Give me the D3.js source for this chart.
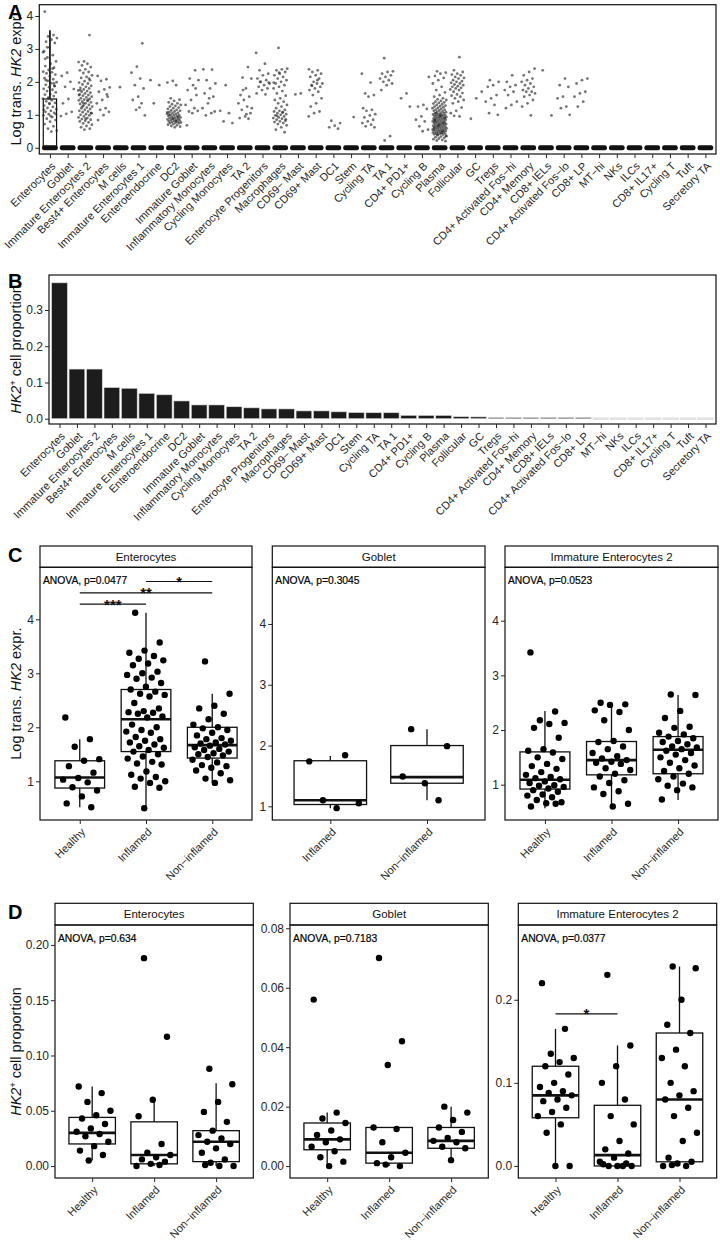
<!DOCTYPE html>
<html><head><meta charset="utf-8">
<script src="https://cdn.jsdelivr.net/npm/d3@7"></script>
<style>body{margin:0;background:#fff}svg{display:block}</style>
</head><body><svg id="c" width="720" height="1240"></svg>
<script>
// ---------------- DATA ----------------
const cellTypes = ["Enterocytes","Goblet","Immature Enterocytes 2","Best4+ Enterocytes","M cells","Immature Enterocytes 1","Enteroendocrine","DC2","Immature Goblet","Inflammatory Monocytes","Cycling Monocytes","TA 2","Enterocyte Progenitors","Macrophages","CD69− Mast","CD69+ Mast","DC1","Stem","Cycling TA","TA 1","CD4+ PD1+","Cycling B","Plasma","Follicular","GC","Tregs","CD4+ Activated Fos−hi","CD4+ Memory","CD8+ IELs","CD4+ Activated Fos−lo","CD8+ LP","MT−hi","NKs","ILCs","CD8+ IL17+","Cycling T","Tuft","Secretory TA"];
const hk2Proportion = [0.375,0.137,0.137,0.086,0.084,0.070,0.066,0.049,0.038,0.038,0.033,0.030,0.027,0.027,0.0215,0.0215,0.019,0.017,0.0165,0.0165,0.0092,0.009,0.009,0.0055,0.005,0.003,0.003,0.003,0.003,0.003,0.003,0,0,0,0,0,0,0];
// Panel A: non-zero log-transformed HK2 expression per cell type (same order as cellTypes)
const exprNonZero = [
 [4.13,3.42,3.38,3.33,3.28,3.22,3.18,3.05,2.93,2.81,2.74,2.62,2.55,2.48,2.43,2.36,2.31,2.29,2.26,2.22,2.17,2.11,2.08,2.03,1.99,1.96,1.91,1.87,1.84,1.79,1.76,1.72,1.68,1.63,1.61,1.57,1.52,1.49,1.44,1.41,1.36,1.33,1.28,1.24,1.21,1.17,1.12,1.09,1.06,1.02,0.98,0.93,0.88,0.84,0.79,0.72,0.65,0.58,0.52,0.49,2.05,1.88,1.35,1.15,2.4,3.05,1.02,0.96,2.7,1.95,1.5,2.9],
 [2.28,2.18,2.0,1.85,1.78,1.48,1.35,1.09,1.03,0.96],
 [3.42,2.62,2.6,2.55,2.5,2.45,2.38,2.35,2.3,2.27,2.2,2.15,2.12,2.05,2.02,1.98,1.95,1.92,1.88,1.85,1.82,1.8,1.77,1.74,1.72,1.7,1.67,1.65,1.62,1.6,1.58,1.55,1.53,1.5,1.48,1.46,1.44,1.42,1.4,1.38,1.35,1.33,1.3,1.28,1.25,1.22,1.2,1.18,1.15,1.12,1.1,1.08,1.05,1.02,1.0,0.98,0.95,0.92,0.9,0.87,0.85,0.82,0.8,0.77,0.74,0.7,0.66,0.62,0.58,0.55,1.6,1.45,1.25,1.05,0.88,1.75,2.1,1.35],
 [2.18,2.08,2.03,1.83,1.77,1.7,1.55,1.45,1.35,1.2,1.15,1.09,0.99,0.84,1.62],
 [1.84],
 [3.17,2.46,2.28,2.1,1.9,1.8,1.55,1.45,1.35,1.15,0.98,1.22],
 [2.05,1.9,1.35],
 [2.03,1.98,1.9,1.5,1.46,1.42,1.38,1.35,1.32,1.3,1.27,1.25,1.22,1.2,1.18,1.15,1.13,1.12,1.1,1.08,1.06,1.05,1.03,1.02,1.0,0.99,0.98,0.96,0.95,0.94,0.92,0.91,0.9,0.88,0.87,0.86,0.85,0.84,0.83,0.82,0.8,0.79,0.78,0.77,0.76,0.75,0.74,0.72,0.7,0.68,0.66,0.64,0.62,1.0,0.93,0.89,1.07,0.81],
 [2.35,2.1,2.05,1.9,1.75,1.6,1.45,1.3,1.2,1.1,1.12,1.05,0.68,1.8],
 [2.38,2.37,2.05,1.95,1.8,1.65,1.55,1.35,1.2,1.05,0.98,1.1,1.5],
 [1.9,1.12,1.05,0.8,0.75],
 [2.45,2.13,2.1,1.8,1.6,1.55,1.45,1.35,1.25,1.15,1.05,0.95,0.9,0.88,1.75,1.2,1.02],
 [2.88,2.55,2.35,2.25,2.2,2.1,2.05,2.0,1.95,1.9,1.85,1.8,1.75,1.65,1.62,2.0,1.98],
 [3.03,2.4,2.38,2.35,2.3,2.25,2.2,2.15,2.1,2.05,2.0,1.95,1.9,1.85,1.8,1.72,1.65,1.58,1.5,1.45,1.4,1.35,1.3,1.25,1.2,1.15,1.12,1.1,1.08,1.05,1.02,1.0,0.98,0.95,0.92,0.9,0.88,0.85,0.82,0.8,0.78,0.75,0.72,0.68,0.62,0.55,0.47,2.28,1.98,1.07,0.97,0.86],
 [1.65,1.62],
 [2.38,2.35,2.3,2.25,2.2,2.15,2.1,2.0,1.95,1.95,1.9,1.85,1.8,1.75,1.7,1.6,1.5,1.35,1.25,1.1,1.05,0.95,2.05,1.88],
 [0.82,0.75,0.67,0.62,0.58],
 [0.93],
 [2.25,1.98,1.65,1.6,1.55,1.2,1.15,1.12,1.02,0.98,0.92,0.85,0.8,0.75,0.7,0.65,0.62],
 [2.72,2.32,2.3,2.25,2.2,2.15,2.1,2.05,2.0,1.95,1.9,1.75,0.35,0.22],
 [1.65,1.5,1.25],
 [2.15,1.3,1.25,1.18,0.95,0.85,0.8,0.65,0.55,0.5],
 [2.32,2.28,2.25,2.18,2.12,2.05,1.95,1.85,1.75,1.68,1.6,1.55,1.5,1.47,1.45,1.42,1.4,1.38,1.36,1.34,1.32,1.3,1.28,1.26,1.25,1.23,1.21,1.2,1.18,1.16,1.15,1.13,1.12,1.1,1.09,1.08,1.06,1.05,1.04,1.02,1.01,1.0,0.99,0.98,0.97,0.96,0.95,0.94,0.93,0.92,0.91,0.9,0.89,0.88,0.87,0.86,0.85,0.84,0.83,0.82,0.81,0.8,0.79,0.78,0.77,0.76,0.75,0.74,0.73,0.72,0.71,0.7,0.69,0.68,0.67,0.66,0.65,0.64,0.63,0.62,0.61,0.6,0.59,0.58,0.57,0.56,0.55,0.54,0.53,0.52,0.51,0.5,0.49,0.48,0.47,0.46,0.45,0.44,0.43,0.42,0.41,0.4,0.38,0.36,0.34,0.32,0.3,0.28,0.26,0.24,0.22,0.2,0.95,0.85,0.75,0.65,0.55,0.45,1.05,0.9,0.7,0.6,0.5,0.4,0.35,1.0,0.8],
 [2.75,2.35,2.3,2.25,2.22,2.2,2.15,2.12,2.1,2.05,2.02,2.0,1.97,1.95,1.92,1.9,1.87,1.85,1.82,1.8,1.77,1.75,1.7,1.66,1.62,1.58,1.55,1.5,1.45,1.4,1.35,1.22,1.12,1.05,0.95,0.97],
 [1.7,1.5,0.88],
 [2.05,2.0,1.9,1.85,1.6,1.5,1.4,1.3,1.05,1.0],
 [2.2,2.0,1.9,1.85,1.75,1.7,1.6,1.4,1.3,1.2],
 [2.4,2.3,2.2,2.1,2.05,2.0,1.95,1.9,1.85,1.8,1.75,1.7,1.7,1.65,1.6,1.55,1.45,1.35,1.25,0.98],
 [2.35,0.98],
 [2.1,1.9,1.85,1.55,1.5,1.25,1.2,1.0],
 [2.1,2.05,1.95,1.7,1.65,1.55,1.4,1.25],
 [],[],[],[],[],[],[]
];
// Enterocytes box in panel A: [q1, median, q3, whiskerLow, whiskerHigh]
const enterocytesBoxA = [0, 0, 1.48, 0, 3.57];
const exprTicks = [0,1,2,3,4];
const propTicks = [0,0.1,0.2,0.3];

// Panel C / D groups
const groups3 = ["Healthy","Inflamed","Non−inflamed"];
const groups2 = ["Inflamed","Non−inflamed"];

// Panel C: per-sample log trans HK2 expression
const cEntHealthy = [2.18,1.78,1.64,1.41,1.38,1.28,1.16,1.06,1.03,0.98,0.89,0.83,0.72,0.59,0.52];
const cEntInflamed = [4.12,3.57,3.42,3.38,3.32,3.27,3.24,3.18,3.15,3.03,3.0,2.97,2.92,2.9,2.82,2.75,2.7,2.66,2.62,2.6,2.57,2.45,2.35,2.3,2.28,2.27,2.25,2.2,2.18,2.05,2.0,1.95,1.92,1.9,1.82,1.78,1.75,1.72,1.68,1.65,1.62,1.58,1.55,1.5,1.46,1.42,1.36,1.33,1.31,1.18,1.12,1.08,1.05,1.0,0.97,0.9,0.88,0.5];
const cEntNonInfl = [3.22,2.62,2.4,2.35,2.25,2.15,2.05,2.0,1.98,1.95,1.9,1.85,1.8,1.78,1.75,1.72,1.7,1.68,1.66,1.63,1.6,1.58,1.55,1.52,1.5,1.48,1.45,1.4,1.35,1.3,1.28,1.25,1.2,1.15,1.05,1.02,0.97];
const cEntBoxes = [[0.875,1.07,1.38,0.52,1.78],[1.55,2.15,2.7,0.5,4.12],[1.43,1.67,2.0,0.97,2.62]];
const cGobInflamed = [1.74,1.84,1.1,1.05,0.97];
const cGobNonInfl = [2.27,1.99,1.38,1.49,1.1];
const cGobBoxes = [[1.03,1.1,1.75,0.97,1.83],[1.38,1.48,2.0,1.1,2.27]];
const cIe2Healthy = [3.42,2.34,2.18,2.13,2.11,2.04,1.86,1.65,1.62,1.59,1.5,1.47,1.38,1.34,1.29,1.23,1.18,1.14,1.12,1.1,1.06,1.03,0.99,0.98,0.96,0.93,0.9,0.87,0.82,0.8,0.77,0.72,0.68,0.66,0.6,0.65];
const cIe2Inflamed = [2.5,2.47,2.46,2.36,2.33,2.18,2.0,1.8,1.78,1.7,1.65,1.58,1.52,1.48,1.45,1.42,1.4,1.38,1.3,1.27,1.2,1.15,1.08,1.03,0.95,0.88,0.83,0.65,0.6];
const cIe2NonInfl = [2.65,2.64,2.35,2.22,2.06,2.04,1.95,1.92,1.88,1.85,1.8,1.78,1.74,1.7,1.68,1.65,1.62,1.58,1.55,1.5,1.45,1.4,1.35,1.3,1.25,1.2,1.15,1.1,1.02,0.98,0.95,0.9,0.73];
const cIe2Boxes = [[0.92,1.09,1.6,0.57,2.35],[1.18,1.45,1.79,0.6,2.49],[1.2,1.64,1.88,0.72,2.64]];

// Panel D: HK2+ cell proportion per sample
const dEntHealthy = [0.072,0.066,0.058,0.05,0.046,0.043,0.038,0.034,0.031,0.029,0.027,0.022,0.018,0.014,0.01,0.005];
const dEntInflamed = [0.188,0.117,0.06,0.045,0.02,0.012,0.01,0.008,0.006,0.004,0.002,0.0,0.001];
const dEntNonInfl = [0.088,0.074,0.058,0.049,0.04,0.032,0.028,0.025,0.022,0.02,0.016,0.012,0.006,0.003,0.0,0.0,0.001];
const dEntBoxes = [[0.02,0.03,0.044,0.005,0.072],[0.002,0.01,0.04,0,0.06],[0.004,0.022,0.032,0,0.075]];
const dGobHealthy = [0.056,0.018,0.016,0.0145,0.012,0.0105,0.009,0.008,0.0065,0.005,0.003,0.0015,0.0];
const dGobInflamed = [0.07,0.042,0.034,0.013,0.0125,0.008,0.0045,0.003,0.001,0.0,0.0005];
const dGobNonInfl = [0.02,0.018,0.0155,0.013,0.0115,0.0095,0.0085,0.008,0.0065,0.006,0.002];
const dGobBoxes = [[0.0055,0.009,0.0145,0,0.018],[0.001,0.0045,0.013,0,0.013],[0.006,0.0085,0.013,0.002,0.02]];
const dIe2Healthy = [0.22,0.165,0.135,0.13,0.125,0.12,0.11,0.1,0.095,0.09,0.088,0.085,0.08,0.078,0.07,0.065,0.06,0.05,0.04,0.0,0.0];
const dIe2Inflamed = [0.23,0.145,0.12,0.1,0.08,0.06,0.05,0.03,0.02,0.015,0.01,0.005,0.0,0.0,0.0,0.0,0.002,0.003];
const dIe2NonInfl = [0.24,0.238,0.2,0.17,0.16,0.14,0.13,0.12,0.1,0.09,0.085,0.08,0.07,0.06,0.04,0.03,0.01,0.005,0.003,0.0,0.0,0.001];
const dIe2Boxes = [[0.058,0.085,0.12,0,0.165],[0,0.013,0.073,0,0.145],[0.005,0.08,0.16,0,0.24]];

// ---------------- DRAWING ----------------
const F = '"Liberation Sans", Arial, Helvetica, sans-serif';
const INK = "#111", TXT = "#262626";
const svg = d3.select("#c").attr("font-family", F);
const jit = i => ((i * 0.6180339887 + 0.137) % 1) - 0.5;

function frame(x0, y0, x1, y1) {
  svg.append("rect").attr("x", x0).attr("y", y0).attr("width", x1 - x0).attr("height", y1 - y0)
    .attr("fill", "none").attr("stroke", INK).attr("stroke-width", 1.2);
}
function yAxis(scale, x, ticks, fmt) {
  const a = svg.append("g").attr("transform", `translate(${x},0)`)
    .call(d3.axisLeft(scale).tickValues(ticks).tickFormat(fmt).tickSize(4).tickPadding(2));
  a.select(".domain").remove();
  a.selectAll("line").attr("stroke", TXT);
  a.selectAll("text").attr("font-size", 12).attr("fill", TXT).attr("font-family", F);
}
function xAxisRot(scale, y, fs) {
  const a = svg.append("g").attr("transform", `translate(0,${y})`)
    .call(d3.axisBottom(scale).tickSize(4));
  a.select(".domain").remove();
  a.selectAll("line").attr("stroke", TXT);
  a.selectAll("text").attr("y", 0).attr("dy", "0.35em").attr("text-anchor", "end")
    .attr("transform", "translate(3,10) rotate(-45)")
    .attr("font-size", fs).attr("fill", TXT).attr("font-family", F);
}
function yTitle(x, cy, parts) {
  const t = svg.append("text").attr("transform", `translate(${x},${cy}) rotate(-90)`)
    .attr("text-anchor", "middle").attr("font-size", 14.5).attr("fill", INK);
  parts.forEach(p => {
    const s = t.append("tspan").text(p.t);
    if (p.i) s.attr("font-style", "italic");
    if (p.sup) s.attr("font-size", 9).attr("baseline-shift", "super");
  });
}
function letter(l, x, y) {
  svg.append("text").attr("x", x).attr("y", y).attr("font-size", 20).attr("font-weight", "bold").attr("fill", "#000").text(l);
}
const exprTitle = [{t:"Log trans. "},{t:"HK2",i:true},{t:" expr."}];
const propTitle = [{t:"HK2",i:true},{t:"+",sup:true},{t:" cell proportion"}];

// ----- Panel A -----
{
  const L = 39.3, R = 716, T = 4.7, B = 154;
  const x = d3.scalePoint().domain(cellTypes).range([L, R]).padding(0.6);
  const y = d3.scaleLinear().domain([-0.19, 4.343]).range([B, T]);
  const st = x.step();
  svg.append("g").selectAll("rect").data(cellTypes).join("rect")
    .attr("x", d => x(d) - 0.44 * st).attr("width", 0.88 * st)
    .attr("y", y(0) - 2.4).attr("height", 4.8).attr("rx", 2).attr("fill", INK);
  const [q1, md, q3, lo, hi] = enterocytesBoxA, cx = x(cellTypes[0]);
  svg.append("line").attr("x1", cx).attr("x2", cx).attr("y1", y(q3)).attr("y2", y(hi)).attr("stroke", INK).attr("stroke-width", 1.7);
  svg.append("rect").attr("x", cx - 0.375 * st).attr("width", 0.75 * st).attr("y", y(q3)).attr("height", y(q1) - y(q3))
    .attr("fill", "none").attr("stroke", INK).attr("stroke-width", 1.2);
  cellTypes.forEach((c, ci) => {
    svg.append("g").selectAll("circle").data(exprNonZero[ci]).join("circle")
      .attr("cx", (d, i) => x(c) + jit(i + ci * 7) * 0.8 * st)
      .attr("cy", d => y(d)).attr("r", 1.4).attr("fill", "#2a2a2a").attr("fill-opacity", 0.65);
  });
  frame(L, T, R, B);
  yAxis(y, L, exprTicks, d3.format("d"));
  xAxisRot(x, B, 11);
  yTitle(21, (T + B) / 2, exprTitle);
  letter("A", 8, 19);
}

// ----- Panel B -----
{
  const L = 49, R = 716, T = 275, B = 424;
  const x = d3.scalePoint().domain(cellTypes).range([L, R]).padding(0.6);
  const y = d3.scaleLinear().domain([-0.0146, 0.3966]).range([B, T]);
  const bw = 0.9 * x.step();
  svg.append("g").selectAll("rect").data(cellTypes).join("rect")
    .attr("x", d => x(d) - bw / 2).attr("width", bw)
    .attr("y", (d, i) => y(hk2Proportion[i]) - (hk2Proportion[i] === 0 ? 0.8 : 0))
    .attr("height", (d, i) => Math.max(y(0) - y(hk2Proportion[i]), 0.8) + (hk2Proportion[i] === 0 ? 0.8 : 0))
    .attr("fill", (d, i) => hk2Proportion[i] === 0 ? "#e4e4e4" : "#1c1c1c")
    .attr("stroke", "#d8d8d8").attr("stroke-width", 0.6);
  frame(L, T, R, B);
  yAxis(y, L, propTicks, d3.format(".1f"));
  xAxisRot(x, B, 11);
  yTitle(21, (T + B) / 2, propTitle);
  letter("B", 8, 288);
}

// ----- Facet panels (C, D) -----
function facet(cfg) {
  const { L, R, sT, pT, pB, title, groups, domain, ticks, fmt, boxes, pts, anova, brackets } = cfg;
  const x = d3.scalePoint().domain(groups).range([L, R]).padding(0.6);
  const y = d3.scaleLinear().domain(domain).range([pB, pT]);
  const st = x.step(), bw = 0.75 * st;
  svg.append("rect").attr("x", L).attr("y", sT).attr("width", R - L).attr("height", pT - sT)
    .attr("fill", "#fff").attr("stroke", INK).attr("stroke-width", 1.2);
  svg.append("text").attr("x", (L + R) / 2).attr("y", (sT + pT) / 2).attr("dy", "0.36em")
    .attr("text-anchor", "middle").attr("font-size", 11.5).attr("fill", INK).text(title);
  groups.forEach((g, gi) => {
    const [q1, md, q3, lo, hi] = boxes[gi], cx = x(g);
    const gg = svg.append("g").attr("stroke", INK).attr("fill", "none");
    gg.append("line").attr("x1", cx).attr("x2", cx).attr("y1", y(q3)).attr("y2", y(hi)).attr("stroke-width", 1.3);
    gg.append("line").attr("x1", cx).attr("x2", cx).attr("y1", y(q1)).attr("y2", y(lo)).attr("stroke-width", 1.3);
    gg.append("rect").attr("x", cx - bw / 2).attr("width", bw).attr("y", y(q3)).attr("height", Math.max(y(q1) - y(q3), 0.01)).attr("stroke-width", 1.3);
    gg.append("line").attr("x1", cx - bw / 2).attr("x2", cx + bw / 2).attr("y1", y(md)).attr("y2", y(md)).attr("stroke-width", 2.6);
  });
  groups.forEach((g, gi) => {
    svg.append("g").selectAll("circle").data(pts[gi]).join("circle")
      .attr("cx", (d, i) => x(g) + jit(i + gi * 5) * 0.6 * st)
      .attr("cy", d => y(d)).attr("r", 3.2).attr("fill", "#000");
  });
  (brackets || []).forEach(b => {
    svg.append("line").attr("x1", x(b.from)).attr("x2", x(b.to)).attr("y1", y(b.v)).attr("y2", y(b.v))
      .attr("stroke", INK).attr("stroke-width", 1.2);
    svg.append("text").attr("x", (x(b.from) + x(b.to)) / 2).attr("y", y(b.v) + 5.5)
      .attr("text-anchor", "middle").attr("font-size", 15).attr("font-weight", "bold").attr("fill", INK).text(b.s);
  });
  svg.append("text").attr("x", L + 3).attr("y", pT + 16.5).attr("font-size", 10.3).attr("fill", "#000")
    .attr("stroke", "#000").attr("stroke-width", 0.2).text(anova);
  frame(L, pT, R, pB);
  yAxis(y, L, ticks, fmt);
  xAxisRot(x, pB, 11);
}

// C
const cTop = 546, cPT = 567.3, cPB = 820;
facet({ L: 40, R: 252, sT: cTop, pT: cPT, pB: cPB, title: "Enterocytes", groups: groups3,
  domain: [0.283, 4.963], ticks: [1,2,3,4], fmt: d3.format("d"), boxes: cEntBoxes,
  pts: [cEntHealthy, cEntInflamed, cEntNonInfl], anova: "ANOVA, p=0.0477",
  brackets: [{from:"Inflamed",to:"Non−inflamed",v:4.70,s:"*"},{from:"Healthy",to:"Non−inflamed",v:4.49,s:"**"},{from:"Healthy",to:"Inflamed",v:4.28,s:"***"}] });
facet({ L: 272.3, R: 485, sT: cTop, pT: cPT, pB: cPB, title: "Goblet", groups: groups2,
  domain: [0.775, 4.933], ticks: [1,2,3,4], fmt: d3.format("d"), boxes: cGobBoxes,
  pts: [cGobInflamed, cGobNonInfl], anova: "ANOVA, p=0.3045" });
facet({ L: 505, R: 718, sT: cTop, pT: cPT, pB: cPB, title: "Immature Enterocytes 2", groups: groups3,
  domain: [0.354, 4.977], ticks: [1,2,3,4], fmt: d3.format("d"), boxes: cIe2Boxes,
  pts: [cIe2Healthy, cIe2Inflamed, cIe2NonInfl], anova: "ANOVA, p=0.0523" });
yTitle(21, (cPT + cPB) / 2, exprTitle);
letter("C", 8, 562);

// D
const dTop = 903.3, dPT = 925, dPB = 1178;
facet({ L: 55, R: 253.3, sT: dTop, pT: dPT, pB: dPB, title: "Enterocytes", groups: groups3,
  domain: [-0.0108, 0.218], ticks: [0,0.05,0.1,0.15,0.2], fmt: d3.format(".2f"), boxes: dEntBoxes,
  pts: [dEntHealthy, dEntInflamed, dEntNonInfl], anova: "ANOVA, p=0.634" });
facet({ L: 290, R: 488.3, sT: dTop, pT: dPT, pB: dPB, title: "Goblet", groups: groups3,
  domain: [-0.004, 0.0811], ticks: [0,0.02,0.04,0.06,0.08], fmt: d3.format(".2f"), boxes: dGobBoxes,
  pts: [dGobHealthy, dGobInflamed, dGobNonInfl], anova: "ANOVA, p=0.7183" });
facet({ L: 518.3, R: 716.7, sT: dTop, pT: dPT, pB: dPB, title: "Immature Enterocytes 2", groups: groups3,
  domain: [-0.0145, 0.29], ticks: [0,0.1,0.2], fmt: d3.format(".1f"), boxes: dIe2Boxes,
  pts: [dIe2Healthy, dIe2Inflamed, dIe2NonInfl], anova: "ANOVA, p=0.0377",
  brackets: [{from:"Healthy",to:"Inflamed",v:0.183,s:"*"}] });
yTitle(21, (dPT + dPB) / 2, propTitle);
letter("D", 8, 919);
</script></body></html>
